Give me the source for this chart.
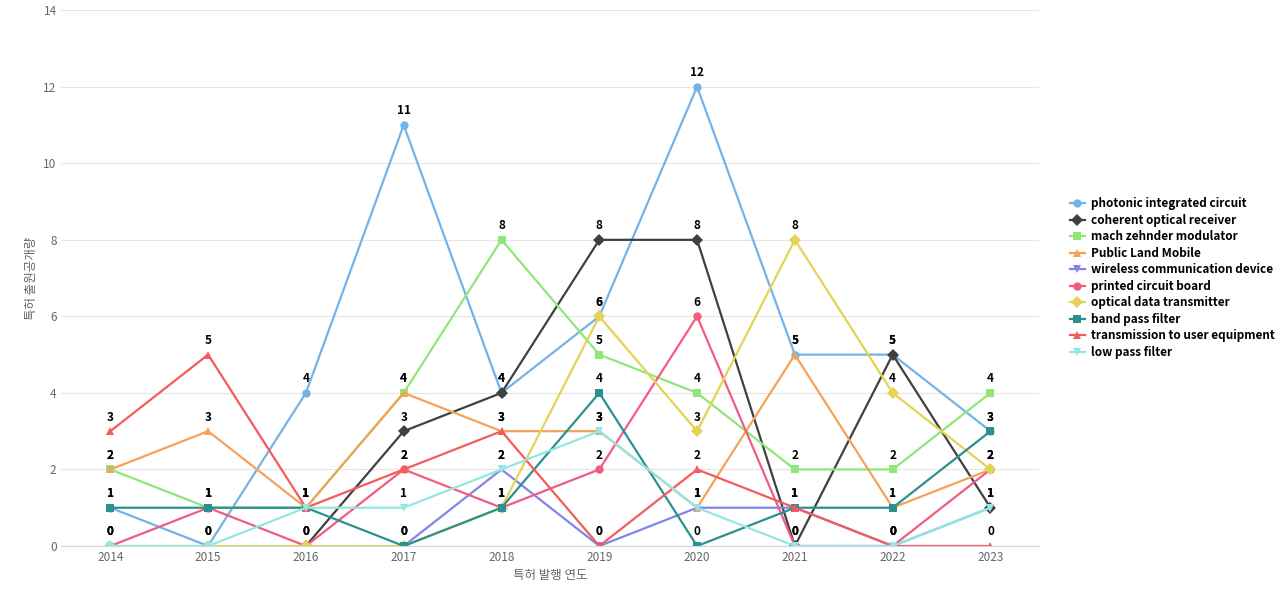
import numpy as np, pandas as pd, seaborn as sns, matplotlib
matplotlib.use("Agg")
import matplotlib.pyplot as plt

years = [2014,2015,2016,2017,2018,2019,2020,2021,2022,2023]
nan = np.nan
photonic = [1,0,4,11,4,6,12,5,5,3]
coherent = [nan,nan,0,3,4,8,8,0,5,1]
mach = [2,1,1,4,8,5,4,2,2,4]
plm = [2,3,1,4,3,3,1,5,1,2]
wireless = [nan,nan,nan,0,2,0,1,1,0,1]
pcb = [0,1,0,2,1,2,6,0,0,2]
odt = [0,0,0,0,1,6,3,8,4,2]
bpf = [1,1,1,0,1,4,0,1,1,3]
tue = [3,5,1,2,3,0,2,1,0,0]
lpf = [0,0,1,1,2,3,1,0,0,1]

series = [("photonic integrated circuit",photonic,"#74b3ea","o"),
 ("coherent optical receiver",coherent,"#404040","D"),
 ("mach zehnder modulator",mach,"#8fe77a","s"),
 ("Public Land Mobile",plm,"#f4a25a","^"),
 ("wireless communication device",wireless,"#8085e9","v"),
 ("printed circuit board",pcb,"#f15c80","o"),
 ("optical data transmitter",odt,"#e4d354","D"),
 ("band pass filter",bpf,"#2b908f","s"),
 ("transmission to user equipment",tue,"#f45b5b","^"),
 ("low pass filter",lpf,"#91e8e1","v")]

rows=[]
for n,v,c,m in series:
    for y,val in zip(years,v):
        rows.append(dict(year=y,value=val,series=n))
df=pd.DataFrame(rows)

plt.rcParams["font.family"]=["Noto Sans CJK KR","DejaVu Sans"]
fig=plt.figure(figsize=(12.8,6),dpi=100)
ax=fig.add_axes([0.048,0.09,0.764,0.893])
pal={n:c for n,v,c,m in series}
marks={n:m for n,v,c,m in series}
sns.lineplot(data=df,x="year",y="value",hue="series",style="series",markers=marks,dashes=False,
             palette=pal,ax=ax,linewidth=1.6,markersize=6,markeredgewidth=0)
for n,v,c,m in series:
    for y,val in zip(years,v):
        if not np.isnan(val):
            ax.text(y,val+0.2,str(int(val)),ha="center",va="bottom",fontsize=8.5,fontweight="bold")
ax.set_xlim(2013.5,2023.5); ax.set_ylim(0,14)
ax.set_xticks(years); ax.set_yticks(range(0,15,2))
ax.grid(axis="y",color="#e6e6e6"); ax.set_axisbelow(True)
for s in ["top","right","left"]: ax.spines[s].set_visible(False)
ax.spines["bottom"].set_color("#ccd6eb")
ax.tick_params(length=0,labelsize=8.5,colors="#666666")
ax.set_xlabel("특허 발행 연도",color="#666666",fontsize=9)
ax.set_ylabel("특허 출원공개량",color="#666666",fontsize=9)
ax.legend(loc="center left",bbox_to_anchor=(1.02,0.5),frameon=False,prop={"weight":"bold","size":8.5},
          handlelength=1.3,labelspacing=0.3,handletextpad=0.5)
fig.savefig("out.png")
